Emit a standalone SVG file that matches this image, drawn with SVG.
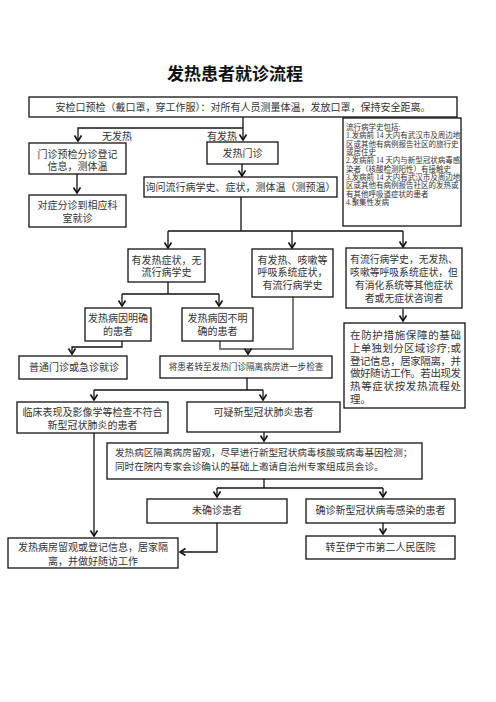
<svg xmlns="http://www.w3.org/2000/svg" width="496" height="702" viewBox="0 0 496 702">
<defs>
<marker id="ah" markerUnits="userSpaceOnUse" markerWidth="10" markerHeight="10" refX="6" refY="4" orient="auto">
<path d="M0.5,0.5 L6,4 L0.5,7.5" fill="none" stroke="#111" stroke-width="1.6"/>
</marker>
<style>
rect{fill:#fff;stroke:#111;stroke-width:1.3}
text{font-family:"Liberation Serif","Noto Sans CJK SC",serif;fill:#333;dominant-baseline:central}
.t{font-size:10px;text-anchor:middle}
.s{font-size:7.5px}
.l{fill:none;stroke:#111;stroke-width:1.3}
.g{fill:none;stroke:#7a7a7a;stroke-width:2}
.a{fill:none;stroke:#111;stroke-width:1.3;marker-end:url(#ah)}
</style>
</defs>
<rect x="0" y="0" width="496" height="702" style="fill:#fff;stroke:none"/>
<text x="235" y="74" style="font-size:17px;font-weight:bold;text-anchor:middle;fill:#111">发热患者就诊流程</text>

<g id="connectors">
<path class="a" d="M243,117 V140"/>
<path class="a" d="M243,128 H78 V141"/>
<path class="a" d="M77,174 V193"/>
<path class="a" d="M242,164 V176"/>
<path class="l" d="M241,197 V231 M168,231 H403"/>
<path class="a" d="M168,231 V248"/>
<path class="a" d="M292,231 V248"/>
<path class="a" d="M403,231 V247"/>
<path class="l" d="M168,282 V294 M122,294 H219"/>
<path class="a" d="M122,294 V306"/>
<path class="a" d="M219,294 V306"/>
<path class="a" d="M403,309 V321"/>
<path class="a" d="M122,341 V347 H72 V354"/>
<path class="g" d="M220,341 V349 H293 V297"/>
<path class="a" d="M248,349 V354"/>
<path class="l" d="M247,378 V390 M94,390 H263"/>
<path class="a" d="M94,390 V400"/>
<path class="a" d="M263,390 V400"/>
<path class="a" d="M264,432 V441"/>
<path class="a" d="M94,433 V536"/>
<path class="l" d="M264,479 V488 M217,488 H383"/>
<path class="a" d="M217,488 V497"/>
<path class="a" d="M383,488 V497"/>
<path class="a" d="M217,523 V552 H180"/>
<path class="a" d="M383,523 V534"/>
<polygon points="22,363 28,366.5 22,370" fill="#111"/>
</g>

<text class="t" x="117" y="136">无发热</text>
<text class="t" x="222" y="136">有发热</text>

<g id="n-top"><rect x="29" y="97" width="428" height="20"/>
<text class="t" x="243" y="107">安检口预检（戴口罩，穿工作服）：对所有人员测量体温，发放口罩，保持安全距离。</text></g>

<g id="n-menzhen"><rect x="29" y="143" width="97" height="31"/>
<text class="t" x="77.5" y="154">门诊预检分诊登记</text>
<text class="t" x="77.5" y="166">信息，测体温</text></g>

<g id="n-duizheng"><rect x="29" y="195" width="97" height="32"/>
<text class="t" x="77.5" y="205">对症分诊到相应科</text>
<text class="t" x="77.5" y="218">室就诊</text></g>

<g id="n-fare"><rect x="207" y="142" width="71" height="22"/>
<text class="t" x="242.5" y="153">发热门诊</text></g>

<g id="n-xunwen"><rect x="144" y="177" width="193" height="20"/>
<text class="t" x="240.5" y="187">询问流行病学史、症状，测体温（测预温）</text></g>

<g id="n-epi"><rect x="343" y="118" width="118" height="108"/>
<text class="s" x="346" y="127">流行病学史包括:</text>
<text class="s" x="346" y="135.5">1.发病前 14 天内有武汉市及周边地</text>
<text class="s" x="346" y="144">区或其他有病例报告社区的旅行史</text>
<text class="s" x="346" y="152">或居住史</text>
<text class="s" x="346" y="160.5">2.发病前 14 天内与新型冠状病毒感</text>
<text class="s" x="346" y="169">染者（核酸检测阳性）有接触史</text>
<text class="s" x="346" y="177">3.发病前 14 天内有武汉市及周边地</text>
<text class="s" x="346" y="185.5">区或其他有病例报告社区的发热或</text>
<text class="s" x="346" y="194">有其他呼吸道症状的患者</text>
<text class="s" x="346" y="202">4.聚集性发病</text></g>

<g id="n-a"><rect x="128" y="249" width="77" height="33"/>
<text class="t" x="166.5" y="260">有发热症状，无</text>
<text class="t" x="166.5" y="272">流行病学史</text></g>

<g id="n-b"><rect x="252" y="249" width="81" height="48"/>
<text class="t" x="292.5" y="260">有发热、咳嗽等</text>
<text class="t" x="292.5" y="272">呼吸系统症状，</text>
<text class="t" x="292.5" y="285">有流行病学史</text></g>

<g id="n-c"><rect x="346" y="248" width="116" height="60"/>
<text class="t" x="404" y="259" style="font-size:9.8px">有流行病学史，无发热、</text>
<text class="t" x="404" y="272" style="font-size:9.8px">咳嗽等呼吸系统症状，但</text>
<text class="t" x="404" y="285" style="font-size:9.8px">有消化系统等其他症状</text>
<text class="t" x="404" y="298" style="font-size:9.8px">者或无症状咨询者</text></g>

<g id="n-mingque"><rect x="85" y="308" width="66" height="33"/>
<text class="t" x="118" y="318">发热病因明确</text>
<text class="t" x="118" y="331">的患者</text></g>

<g id="n-buming"><rect x="182" y="308" width="71" height="33"/>
<text class="t" x="217.5" y="318">发热病因不明</text>
<text class="t" x="217.5" y="331">确的患者</text></g>

<g id="n-fanghu"><rect x="344" y="323" width="121" height="85"/>
<text x="350" y="335" style="font-size:10.5px" textLength="111" lengthAdjust="spacing">在防护措施保障的基础</text>
<text x="350" y="348" style="font-size:10.5px" textLength="111" lengthAdjust="spacing">上单独划分区域诊疗;或</text>
<text x="350" y="361" style="font-size:10.5px" textLength="111" lengthAdjust="spacing">登记信息，居家隔离，并</text>
<text x="350" y="373" style="font-size:10.5px" textLength="111" lengthAdjust="spacing">做好随访工作。若出现发</text>
<text x="350" y="386" style="font-size:10.5px" textLength="111" lengthAdjust="spacing">热等症状按发热流程处</text>
<text x="350" y="399" style="font-size:10.5px">理。</text></g>

<g id="n-putong"><rect x="19" y="356" width="108" height="23"/>
<text x="29" y="367" style="font-size:10px">普通门诊或急诊就诊</text></g>

<g id="n-zhuan"><rect x="160" y="356" width="172" height="22"/>
<text class="t" x="246" y="367" style="font-size:8.6px">将患者转至发热门诊隔离病房进一步检查</text></g>

<g id="n-linchuang"><rect x="17" y="402" width="151" height="31"/>
<text class="t" x="92.5" y="412">临床表现及影像学等检查不符合</text>
<text class="t" x="92.5" y="425">新型冠状肺炎的患者</text></g>

<g id="n-keyi"><rect x="187" y="402" width="153" height="30"/>
<text class="t" x="263.5" y="412">可疑新型冠状肺炎患者</text></g>

<g id="n-bingqu"><rect x="107" y="443" width="315" height="36"/>
<text x="115" y="452" style="font-size:9.6px">发热病区隔离病房留观，尽早进行新型冠状病毒核酸或病毒基因检测；</text>
<text x="115" y="466" style="font-size:9.6px">同时在院内专家会诊确认的基础上邀请自治州专家组成员会诊。</text></g>

<g id="n-weiquezhen"><rect x="147" y="499" width="140" height="24"/>
<text class="t" x="217" y="510">未确诊患者</text></g>

<g id="n-quezhen"><rect x="306" y="499" width="149" height="24"/>
<text class="t" x="380.5" y="510">确诊新型冠状病毒感染的患者</text></g>

<g id="n-liuguan"><rect x="8" y="538" width="170" height="30"/>
<text class="t" x="93" y="547">发热病房留观或登记信息，居家隔</text>
<text class="t" x="93" y="561">离，并做好随访工作</text></g>

<g id="n-yining"><rect x="306" y="536" width="149" height="23"/>
<text class="t" x="380.5" y="547">转至伊宁市第二人民医院</text></g>
</svg>
